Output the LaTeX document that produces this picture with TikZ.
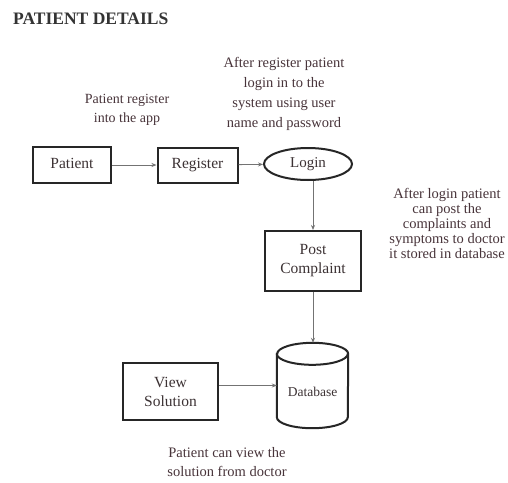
\documentclass[tikz,border=0pt]{standalone}
\usepackage{fontspec}
\setmainfont{Liberation Serif}
\usetikzlibrary{arrows.meta,shapes.geometric}
\definecolor{txt}{RGB}{60,50,52}
\definecolor{note}{RGB}{72,52,58}
\begin{document}
\begin{tikzpicture}[x=1pt,y=-1pt,
  box/.style={draw=black!85, line width=2pt, rectangle, inner sep=0pt, text=txt, font=\fontsize{15.5}{17}\selectfont, align=center},
  oneline/.style={text height=9.5pt, text depth=3pt},
  conn/.style={draw=black!55, line width=0.8pt, -{Stealth[length=5pt,width=4pt]}},
  notetext/.style={text=note, align=center, font=\fontsize{14.5}{19}\selectfont, inner sep=0pt}]
\useasboundingbox[fill=white] (0,0) rectangle (508,482);
\node[anchor=west, font=\bfseries\fontsize{17.5}{19}\selectfont, text=black!80, inner sep=0pt] (title) at (13,18.5) {PATIENT DETAILS};
\node[box, oneline, minimum width=78, minimum height=36] (patient) at (72,165) {Patient};
\node[box, oneline, minimum width=80, minimum height=35] (register) at (197.5,165) {Register};
\node[draw=black!85, line width=2pt, ellipse, oneline, minimum width=88, minimum height=32, inner sep=0pt, text=txt, font=\fontsize{15}{17}\selectfont] (login) at (308,164) {Login};
\node[box, minimum width=96, minimum height=60] (pc) at (313,261) {Post\\[2pt]Complaint};
\node[box, minimum width=95, minimum height=57] (view) at (170.5,391.5) {View\\[2pt]Solution};
\node[minimum width=71, minimum height=85, inner sep=0pt] (db) at (312.5,385.5) {};
\node[text=txt, font=\fontsize{13.5}{15}\selectfont] (dbl) at (312.5,392) {Database};
\draw[black!85, line width=2pt] ([yshift=-11pt]db.north west) -- ([yshift=11pt]db.south west)
  arc[start angle=180, end angle=360, x radius=35.5pt, y radius=11pt]
  -- ([yshift=-11pt]db.north east)
  arc[start angle=0, end angle=180, x radius=35.5pt, y radius=11pt] -- cycle;
\draw[black!85, line width=2pt] ([yshift=-11pt]db.north west)
  arc[start angle=180, end angle=360, x radius=35.5pt, y radius=11pt];
\node[notetext, font=\fontsize{14}{19}\selectfont] (n1) at (127,110) {Patient register\\into the app};
\node[notetext, font=\fontsize{14.5}{20}\selectfont] (n2) at (284,94) {After register patient\\login in to the\\system using user\\name and password};
\node[notetext, font=\fontsize{14.5}{15}\selectfont] (n3) at (447,223) {After login patient\\can post the\\complaints and\\symptoms to doctor\\it stored in database};
\node[notetext] (n4) at (227,462) {Patient can view the\\solution from doctor};
\draw[conn] (patient) -- (register);
\draw[conn] (register) -- (login);
\draw[conn] (login.south -| pc.north) -- (pc.north);
\draw[conn] (pc.south) -- (pc.south |- db.north);
\draw[conn] (view.east |- db.west) -- (db.west);
\end{tikzpicture}
\end{document}
